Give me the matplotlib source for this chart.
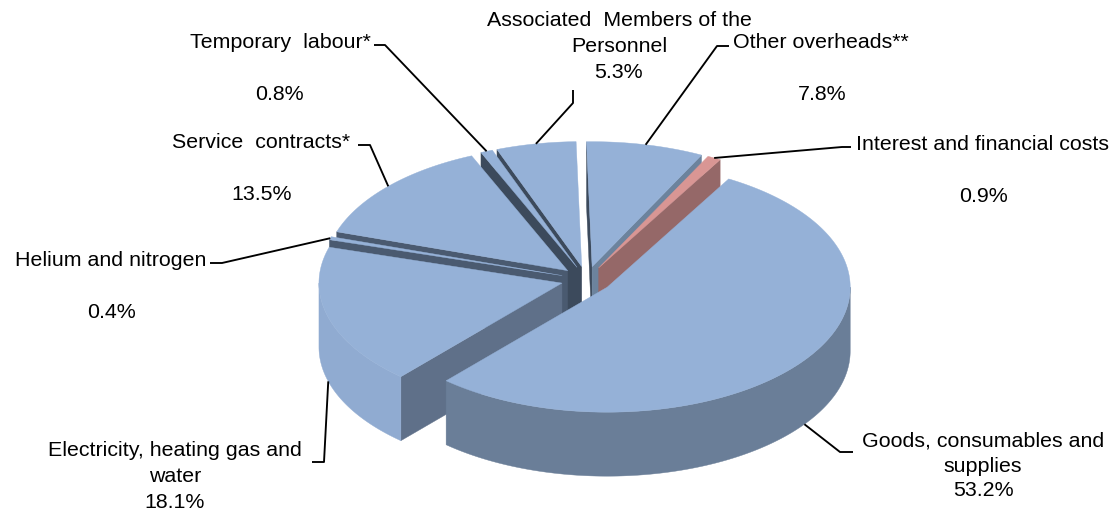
import numpy as np
import matplotlib
matplotlib.use("Agg")
import matplotlib.pyplot as plt
from matplotlib.patches import Polygon

plt.rcParams["font.family"] = ["Liberation Sans", "DejaVu Sans"]

# Shares in percent, clockwise from the first slice
categories = ["Goods", "Electricity", "Helium", "Service", "Temporary", "Associated", "Other", "Interest"]
shares = [53.2, 18.1, 0.4, 13.5, 0.8, 5.3, 7.8, 0.9]

label_lines = [
    ["Goods, consumables and", "supplies"],
    ["Electricity, heating gas and", "water"],
    ["Helium and nitrogen"],
    ["Service  contracts*"],
    ["Temporary  labour*"],
    ["Associated  Members of the", "Personnel"],
    ["Other overheads**"],
    ["Interest and financial costs"],
]

# Pie geometry in pixels
CX, CY = 586.5, 279.5
RX, RY = 243, 125
DEPTH = 64
EXPLODE = 0.105
START = 30.0

TOP = "#95b1d7"
PINK = "#d99694"

# top colour, wall at slice start, wall at slice end, outer wall
styles = {
    "Goods": (TOP, None, None, "#6a7e98"),
    "Electricity": (TOP, "#5f7089", None, "#90abd1"),
    "Helium": (TOP, "#4a5a70", None, None),
    "Service": (TOP, "#4a5a70", None, None),
    "Temporary": (TOP, "#3c4a5c", None, None),
    "Associated": (TOP, "#3c4a5c", None, None),
    "Other": (TOP, "#3c4a5c", "#6c839d", None),
    "Interest": (PINK, None, "#956868", None),
}
draw_order = ["Other", "Associated", "Temporary", "Service", "Helium", "Electricity", "Interest", "Goods"]

# leader bends and ends, text block placement: (x, first line y, value line y, value x)
leader_bends = {
    "Goods": [(840, 452), (853, 452)],
    "Electricity": [(324, 462), (312, 462)],
    "Helium": [(222, 263), (210, 263)],
    "Service": [(370, 145), (358, 145)],
    "Temporary": [(385, 45), (374, 45)],
    "Associated": [(573, 103), (573, 90)],
    "Other": [(717, 46), (729, 46)],
    "Interest": [(842, 147), (851, 147)],
}
text_place = {
    "Goods": (983, 441, 491, 983),
    "Electricity": (175, 451, 502, 175),
    "Helium": (111, 261, 312, 111),
    "Service": (261, 142, 195, 262),
    "Temporary": (280, 42, 94, 279),
    "Associated": (619, 21, 72, 618),
    "Other": (821, 42, 94, 822),
    "Interest": (983, 145, 196, 983),
}


def point(deg, ox, oy):
    rad = np.radians(deg)
    return ox + RX * np.sin(rad), oy - RY * np.cos(rad)


def arc(a0, a1, ox, oy):
    t = np.linspace(a0, a1, max(int(abs(a1 - a0)) * 2, 4))
    return np.column_stack(point(t, ox, oy))


fig = plt.figure(figsize=(11.17, 5.13), dpi=100)
ax = fig.add_axes([0, 0, 1, 1])
ax.set_xlim(0, 1117)
ax.set_ylim(513, 0)
ax.axis("off")

# slice angles, measured clockwise from twelve o'clock
spans = np.array(shares) * 3.6
ends = START + np.cumsum(spans)
starts = ends - spans
slices = {}
for name, a0, a1 in zip(categories, starts, ends):
    mid = np.radians((a0 + a1) / 2)
    ox = CX + EXPLODE * RX * np.sin(mid)
    oy = CY - EXPLODE * RY * np.cos(mid)
    slices[name] = (a0, a1, ox, oy)


def add(points, colour, z):
    ax.add_patch(Polygon(points, closed=True, fc=colour, ec=colour, lw=0.3, zorder=z))


z = 1
for name in draw_order:
    a0, a1, ox, oy = slices[name]
    top, wall0, wall1, outer = styles[name]
    for wall, ang in ((wall0, a0), (wall1, a1)):
        if wall:
            x, y = point(ang, ox, oy)
            add([(ox, oy), (x, y), (x, y + DEPTH), (ox, oy + DEPTH)], wall, z)
    # outer wall only where the rim faces the viewer
    lo, hi = max(a0, 90), min(a1, 270)
    if outer and hi > lo:
        rim = arc(lo, hi, ox, oy)
        add(np.vstack([rim, (rim + [0, DEPTH])[::-1]]), outer, z)
    wedge = arc(a0, a1, ox, oy)
    add(np.vstack([[(ox, oy)], wedge]), top, z + 0.5)
    z += 1

# leader lines start on the rim at each slice's middle angle
for name in categories:
    a0, a1, ox, oy = slices[name]
    mid = (a0 + a1) / 2
    x, y = point(mid, ox, oy)
    if 90 < mid < 270:
        y += DEPTH
    xs = [x] + [p[0] for p in leader_bends[name]]
    ys = [y] + [p[1] for p in leader_bends[name]]
    ax.plot(xs, ys, color="black", lw=1.35, zorder=20, solid_capstyle="butt")

FS = 15.4
for name, value, lines in zip(categories, shares, label_lines):
    tx, ty, vy, vx = text_place[name]
    for i, line in enumerate(lines):
        ax.text(tx, ty + i * 25.5, line, ha="center", va="center", fontsize=FS, zorder=30)
    ax.text(vx, vy, f"{value}%", ha="center", va="center", fontsize=FS, zorder=30)

fig.savefig("out.png", dpi=100)
